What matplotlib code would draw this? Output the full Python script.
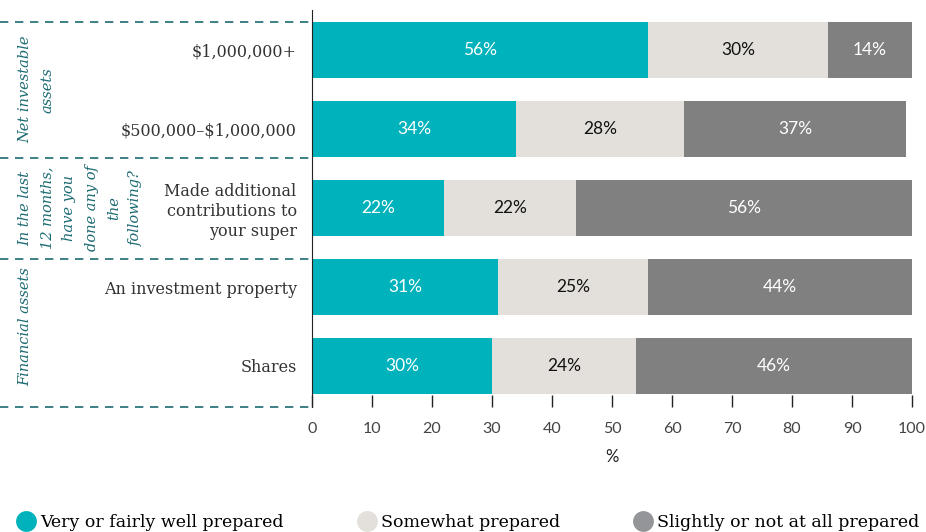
import numpy as np
import matplotlib
matplotlib.use("Agg")
import matplotlib.pyplot as plt
from matplotlib.lines import Line2D
from matplotlib.transforms import blended_transform_factory

categories = ["\\$1,000,000+", "\\$500,000\u2013\\$1,000,000",
              "Made additional\ncontributions to\nyour super",
              "An investment property", "Shares"]
very_well = [56, 34, 22, 31, 30]
somewhat = [30, 28, 22, 25, 24]
not_at_all = [14, 37, 56, 44, 46]
series_names = ["Very or fairly well prepared", "Somewhat prepared",
                "Slightly or not at all prepared"]
groups = ["Net investable\nassets",
          "In the last\n12 months,\nhave you\ndone any of\nthe\nfollowing?",
          "Financial assets"]
group_rows = [(0, 1), (2, 2), (3, 4)]

colors = ["#00b2bb", "#e3e0db", "#808080"]
legend_colors = ["#00b2bb", "#e3e0db", "#939598"]
text_colors = ["white", "#111111", "white"]
teal_dark = "#1d6b73"
serif = "DejaVu Serif"
sans = "Lato"

fig = plt.figure(figsize=(9.26, 5.32), dpi=100)
ax = fig.add_axes([312/926, 1-407/532, 600/926, 397/532])

y = np.arange(len(categories))
h = 0.71
left = np.zeros(len(categories))
for vals, c, tc in zip([very_well, somewhat, not_at_all], colors, text_colors):
    vals = np.array(vals)
    ax.barh(y, vals, height=h, left=left, color=c, edgecolor="none")
    for yi, l, v in zip(y, left, vals):
        ax.text(l + v/2, yi, f"{v}%", ha="center", va="center", color=tc,
                fontsize=12.5, family=sans)
    left = left + vals

ax.set_xlim(0, 100)
ax.set_ylim(4.52, -0.51)
ax.set_xticks(np.arange(0, 101, 10))
ax.set_yticks(y)
ax.set_yticklabels(categories, family=serif, fontsize=11.5, color="#333333")
ax.tick_params(axis="y", length=0, pad=11)
ax.tick_params(axis="x", direction="in", length=9, width=1, color="#222222",
               labelsize=11.5, labelcolor="#444444", pad=11)
for lab in ax.get_xticklabels():
    lab.set_family(sans)
ax.set_xlabel("%", fontsize=12, family=sans, color="#222222", labelpad=9)
for s in ["top", "right", "bottom"]:
    ax.spines[s].set_visible(False)
ax.spines["left"].set_color("#222222")

# group dividers and labels
tr = blended_transform_factory(ax.transAxes, ax.transData)
x0 = -312/600
for yb in [-0.355, 1.365, 2.645, 4.52]:
    ax.plot([x0, 0], [yb, yb], transform=tr, clip_on=False, color=teal_dark,
            lw=1.2, ls=(0, (5, 4)))
for g, (a, b) in zip(groups, group_rows):
    ax.text(x0 + 18/600, (a + b)/2, g, transform=tr, rotation=90,
            ha="left", va="center", multialignment="center",
            fontsize=10.5, style="italic", family=serif, color=teal_dark,
            linespacing=1.75)

handles = [Line2D([], [], marker="o", ls="none", markersize=15,
                  markerfacecolor=c, markeredgecolor="none") for c in legend_colors]
fig.legend(handles, series_names, loc="lower left", bbox_to_anchor=(0.0, -0.028),
           ncol=3, frameon=False, handletextpad=0.2, columnspacing=4.2,
           prop={"family": serif, "size": 12.5}, handlelength=1.2)

fig.savefig("out.png", dpi=100)
